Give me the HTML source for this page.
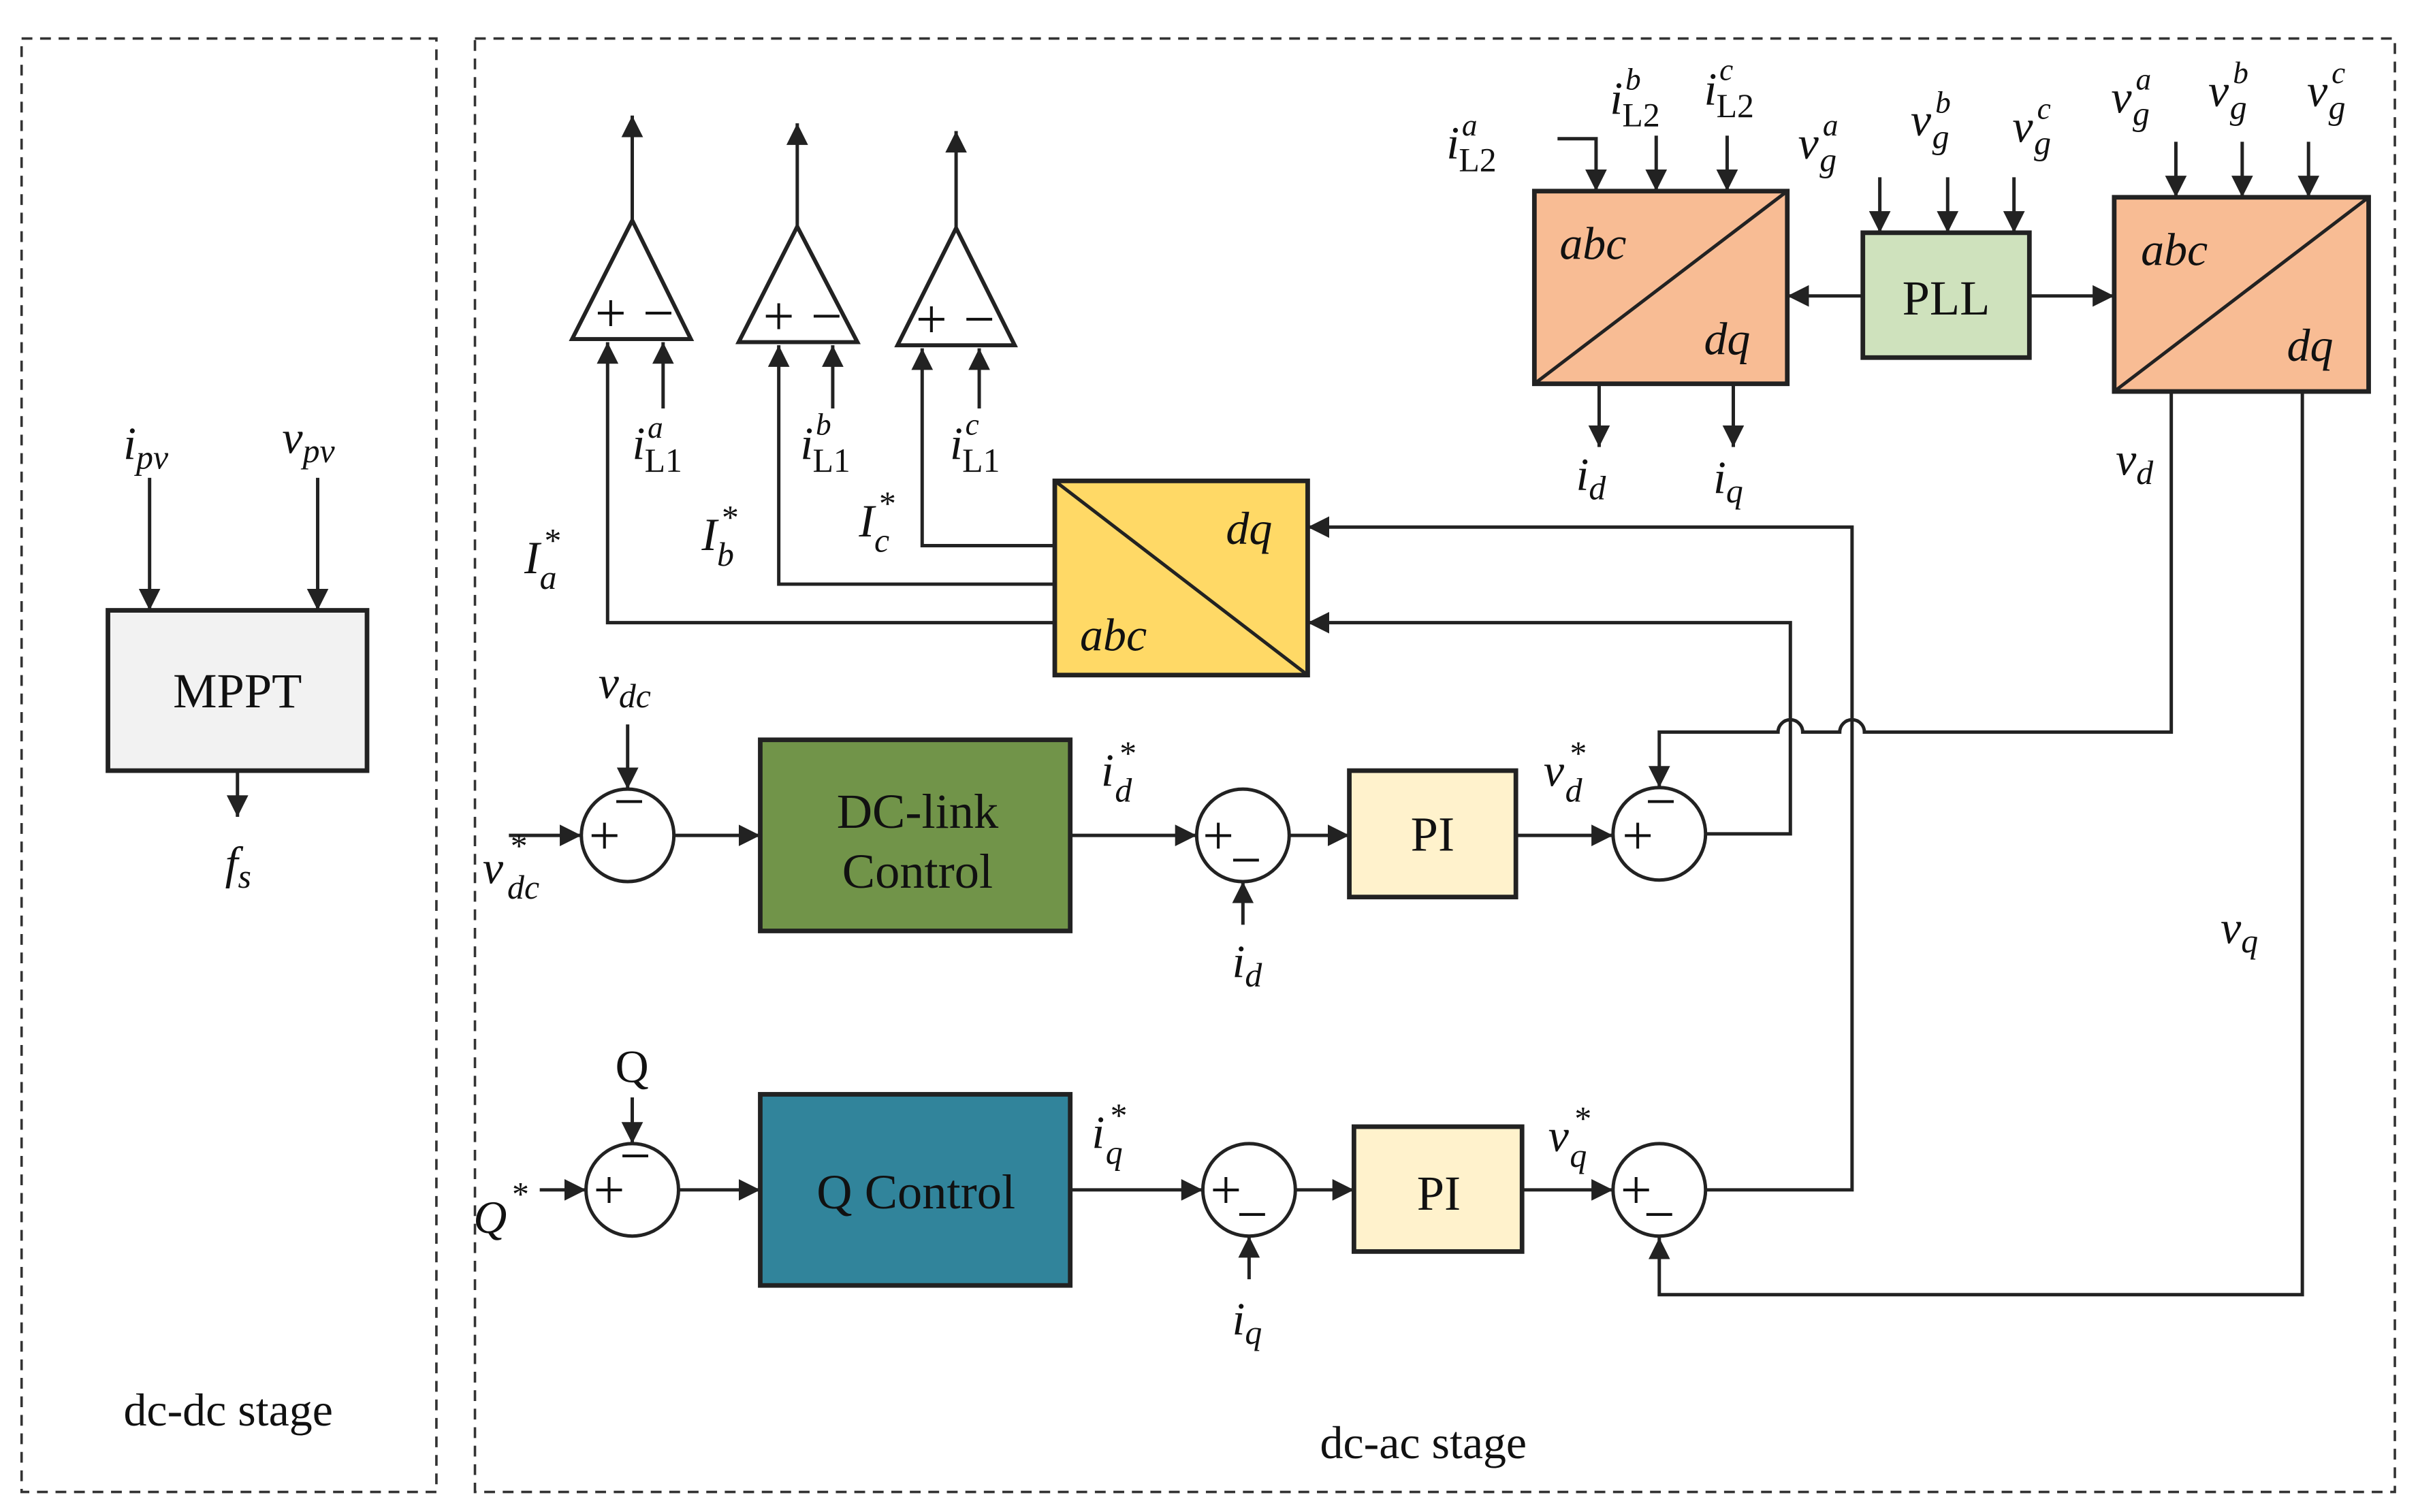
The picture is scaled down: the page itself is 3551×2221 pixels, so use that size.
<!DOCTYPE html>
<html><head><meta charset="utf-8"><style>html,body{margin:0;padding:0;background:#fff}svg{display:block}</style></head><body>
<svg width="3551" height="2221" viewBox="0 0 1568 981" preserveAspectRatio="none" xmlns="http://www.w3.org/2000/svg" font-family="Liberation Serif, serif">
<defs><marker id="a" viewBox="0 0 10 10" refX="10" refY="5" markerWidth="14" markerHeight="14" markerUnits="userSpaceOnUse" orient="auto"><path d="M0,0L10,5L0,10z" fill="#222"/></marker></defs>
<g fill="none" stroke="#333" stroke-width="1.6" stroke-dasharray="7,5">
<rect x="14" y="25" width="269" height="943"/><rect x="308" y="25" width="1245" height="943"/></g>
<g stroke="#222" stroke-width="2.2" fill="none">
<rect x="70" y="396" width="168" height="104" fill="#f2f2f2" stroke-width="3"/>
<g marker-end="url(#a)">
<path d="M97,310V396"/><path d="M206,310V396"/><path d="M154,500V530"/>
<path d="M410,143V75"/><path d="M517,147V80"/><path d="M620,148V85"/>
<path d="M684,404H394V222"/><path d="M684,379H505V224"/><path d="M684,354H598V226"/>
<path d="M430,265V222"/><path d="M540,265V224"/><path d="M635,265V226"/>
<path d="M1010,90H1035V124"/><path d="M1074,88V124"/><path d="M1120,88V124"/>
<path d="M1037,249V290"/><path d="M1124,249V290"/>
<path d="M1208,192H1159"/><path d="M1316,192H1371"/>
<path d="M1219,115V151"/><path d="M1263,115V151"/><path d="M1306,115V151"/>
<path d="M1411,92V128"/><path d="M1454,92V128"/><path d="M1497,92V128"/>
<path d="M1408,254V475H1209A8,8 0 0 0 1193,475H1169A8,8 0 0 0 1153,475H1076V511"/>
<path d="M1493,254V840H1076V803"/>
<path d="M330,542H377"/><path d="M407,470V512"/><path d="M437,542H493"/>
<path d="M694,542H776"/><path d="M806,600V572"/><path d="M836,542H875"/>
<path d="M983,542H1046"/><path d="M1106,541H1161V404H848"/>
<path d="M350,772H380"/><path d="M410,712V742"/><path d="M440,772H493"/>
<path d="M694,772H780"/><path d="M810,830V802"/><path d="M840,772H878"/>
<path d="M987,772H1046"/><path d="M1106,772H1201V342H848"/>
</g>
<path d="M410,143L448,220H371Z M517,147L556,222H479Z M620,148L658,224H582Z" stroke-width="2.6"/>
<rect x="684" y="312" width="164" height="126" fill="#ffd966" stroke-width="3"/>
<path d="M684,312L848,438"/>
<rect x="995" y="124" width="164" height="125" fill="#f8bc94" stroke-width="3"/>
<path d="M995,249L1159,124"/>
<rect x="1208" y="151" width="108" height="81" fill="#cfe2bd" stroke-width="3"/>
<rect x="1371" y="128" width="165" height="126" fill="#f8bc94" stroke-width="3"/>
<path d="M1371,254L1536,128"/>
<circle cx="407" cy="542" r="30"/>
<rect x="493" y="480" width="201" height="124" fill="#719449" stroke-width="3"/>
<circle cx="806" cy="542" r="30"/>
<rect x="875" y="500" width="108" height="82" fill="#fff2cc" stroke-width="3"/>
<circle cx="1076" cy="541" r="30"/>
<circle cx="410" cy="772" r="30"/>
<rect x="493" y="710" width="201" height="124" fill="#31849b" stroke-width="3"/>
<circle cx="810" cy="772" r="30"/>
<rect x="878" y="731" width="109" height="81" fill="#fff2cc" stroke-width="3"/>
<circle cx="1076" cy="772" r="30"/>
</g>
<g fill="#111" font-size="32" text-anchor="middle">
<text x="154" y="459">MPPT</text>
<text x="595" y="537">DC-link</text><text x="595" y="576">Control</text>
<text x="594" y="784">Q Control</text>
<text x="929" y="552">PI</text><text x="933" y="785">PI</text>
<text x="1262" y="204">PLL</text>
<text x="148" y="925" font-size="30">dc-dc stage</text>
<text x="923" y="946" font-size="30">dc-ac stage</text>
<g font-size="36">
<text x="396" y="215">+</text><text x="427" y="215">−</text>
<text x="505" y="217">+</text><text x="536" y="217">−</text>
<text x="604" y="219">+</text><text x="635" y="219">−</text>
<text x="392" y="554">+</text><text x="408" y="532">−</text>
<text x="395" y="784">+</text><text x="412" y="762">−</text>
<text x="790" y="554">+</text><text x="808" y="570">−</text>
<text x="795" y="784">+</text><text x="812" y="800">−</text>
<text x="1062" y="554">+</text><text x="1077" y="532">−</text>
<text x="1061" y="784">+</text><text x="1076" y="800">−</text>
</g>
</g>
<g fill="#111" font-size="30" font-style="italic" text-anchor="middle">
<text x="1033" y="168">abc</text><text x="1120" y="230">dq</text>
<text x="1410" y="172">abc</text><text x="1498" y="234">dq</text>
<text x="722" y="422">abc</text><text x="810" y="353">dq</text>
</g>
<g fill="#111" font-size="30" font-style="italic">
<!-- base, sup, sub helper style: manual -->
<text x="80" y="298">i<tspan font-size="22" dy="6">pv</tspan></text>
<text x="183" y="294">v<tspan font-size="22" dy="6">pv</tspan></text>
<text x="146" y="570">f<tspan font-size="22" dy="6">s</tspan></text>
<g font-size="22">
<text x="410" y="298" font-size="30">i</text><text x="420" y="284" font-size="20">a</text><text x="418" y="306" font-style="normal">L1</text>
<text x="519" y="298" font-size="30">i</text><text x="529" y="282" font-size="20">b</text><text x="527" y="306" font-style="normal">L1</text>
<text x="616" y="298" font-size="30">i</text><text x="626" y="282" font-size="20">c</text><text x="624" y="306" font-style="normal">L1</text>
<text x="938" y="103" font-size="30">i</text><text x="948" y="88" font-size="20">a</text><text x="946" y="111" font-style="normal">L2</text>
<text x="1044" y="74" font-size="30">i</text><text x="1054" y="58" font-size="20">b</text><text x="1052" y="82" font-style="normal">L2</text>
<text x="1105" y="68" font-size="30">i</text><text x="1115" y="52" font-size="20">c</text><text x="1113" y="76" font-style="normal">L2</text>
<text x="1166" y="103" font-size="30">v</text><text x="1182" y="88" font-size="20">a</text><text x="1180" y="111">g</text>
<text x="1239" y="88" font-size="30">v</text><text x="1255" y="73" font-size="20">b</text><text x="1253" y="96">g</text>
<text x="1305" y="92" font-size="30">v</text><text x="1321" y="77" font-size="20">c</text><text x="1319" y="100">g</text>
<text x="1369" y="73" font-size="30">v</text><text x="1385" y="58" font-size="20">a</text><text x="1383" y="81">g</text>
<text x="1432" y="69" font-size="30">v</text><text x="1448" y="54" font-size="20">b</text><text x="1446" y="77">g</text>
<text x="1496" y="69" font-size="30">v</text><text x="1512" y="54" font-size="20">c</text><text x="1510" y="77">g</text>
<text x="340" y="372" font-size="30">I</text><text x="352" y="358" font-size="22">*</text><text x="350" y="382">a</text>
<text x="455" y="357" font-size="30">I</text><text x="467" y="343" font-size="22">*</text><text x="465" y="367">b</text>
<text x="557" y="348" font-size="30">I</text><text x="569" y="334" font-size="22">*</text><text x="567" y="358">c</text>
<text x="313" y="573" font-size="30">v</text><text x="330" y="556" font-size="22">*</text><text x="329" y="583">dc</text>
<text x="714" y="510" font-size="30">i</text><text x="725" y="496" font-size="22">*</text><text x="723" y="520">d</text>
<text x="1001" y="510" font-size="30">v</text><text x="1017" y="496" font-size="22">*</text><text x="1015" y="520">d</text>
<text x="708" y="745" font-size="30">i</text><text x="719" y="731" font-size="22">*</text><text x="717" y="755">q</text>
<text x="1004" y="747" font-size="30">v</text><text x="1020" y="733" font-size="22">*</text><text x="1018" y="757">q</text>
<text x="307" y="800" font-size="30">Q</text><text x="331" y="782" font-size="22">*</text>
</g>
<text x="1022" y="318">i<tspan font-size="22" dy="6">d</tspan></text>
<text x="1111" y="320">i<tspan font-size="22" dy="6">q</tspan></text>
<text x="1372" y="308">v<tspan font-size="22" dy="6">d</tspan></text>
<text x="1440" y="612">v<tspan font-size="22" dy="6">q</tspan></text>
<text x="388" y="453">v<tspan font-size="22" dy="6">dc</tspan></text>
<text x="799" y="634">i<tspan font-size="22" dy="6">d</tspan></text>
<text x="799" y="866">i<tspan font-size="22" dy="6">q</tspan></text>
<text x="399" y="702" font-style="normal">Q</text>
</g>
</svg>
</body></html>
